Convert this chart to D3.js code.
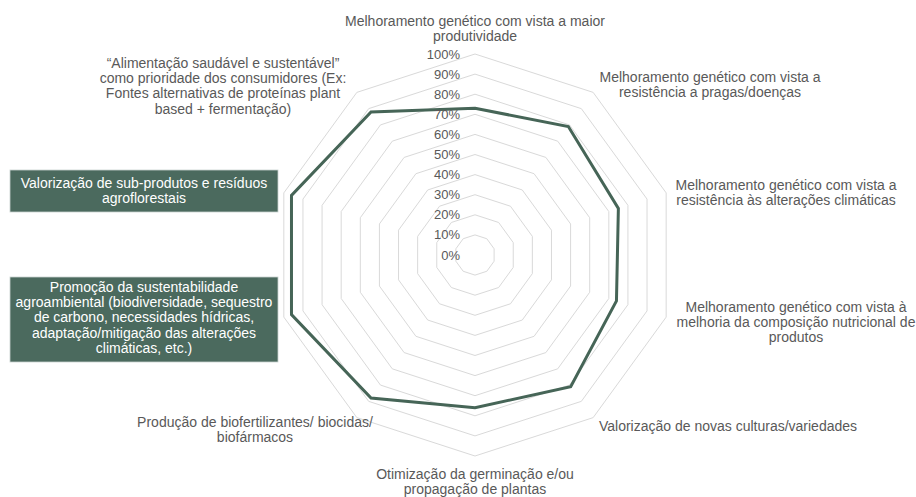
<!DOCTYPE html>
<html><head><meta charset="utf-8">
<script src="https://cdn.jsdelivr.net/npm/d3@7"></script>
<style>body{margin:0;background:#fff}svg{display:block}text{font-family:"Liberation Sans",Arial,sans-serif}</style>
</head><body><svg id="c" width="916" height="497"></svg>
<script>
// ---- data ----
const categories = [
  ["Melhoramento genético com vista a maior","produtividade"],
  ["Melhoramento genético com vista a","resistência a pragas/doenças"],
  ["Melhoramento genético com vista a","resistência às alterações climáticas"],
  ["Melhoramento genético com vista à","melhoria da composição nutricional de","produtos"],
  ["Valorização de novas culturas/variedades"],
  ["Otimização da germinação e/ou","propagação de plantas"],
  ["Produção de biofertilizantes/ biocidas/","biofármacos"],
  ["Promoção da sustentabilidade","agroambiental (biodiversidade, sequestro","de carbono, necessidades hídricas,","adaptação/mitigação das alterações","climáticas, etc.)"],
  ["Valorização de sub-produtos e resíduos","agroflorestais"],
  ["“Alimentação saudável e sustentável”","como prioridade dos consumidores (Ex:","Fontes alternativas de proteínas plant","based + fermentação)"]
];
const values = [0.73, 0.79, 0.75, 0.74, 0.81, 0.76, 0.88, 0.96, 0.96, 0.88];
const highlighted = [false,false,false,false,false,false,false,true,true,false];
const tickValues = [0,0.1,0.2,0.3,0.4,0.5,0.6,0.7,0.8,0.9,1.0];
const tickLabels = ["0%","10%","20%","30%","40%","50%","60%","70%","80%","90%","100%"];

// ---- layout ----
const cx = 475, cy = 255, R = 201;
const labelPos = [ // center x, first baseline y
  [475,26],[710,82],[786,190],[796,312],[728,431],[475,479],[255,427],[144,292],[144,188],[223,68]
];
const boxRect = {7:[10,277,268,85], 8:[10,170,268,42]};
const lineH = 15.2;

const svg = d3.select("#c");
const r = d3.scaleLinear().domain([0,1]).range([0,R]);
const ang = d3.scaleLinear().domain([0,categories.length]).range([0,2*Math.PI]);
const pt = (i,v)=>[cx+r(v)*Math.sin(ang(i)), cy-r(v)*Math.cos(ang(i))];

// grid rings
svg.append("g").selectAll("polygon").data(tickValues.filter(t=>t>0)).join("polygon")
  .attr("points", t=>categories.map((c,i)=>pt(i,t).join(",")).join(" "))
  .attr("fill","none").attr("stroke","#d9d9d9").attr("stroke-width",1);

// series line
const line = d3.line().curve(d3.curveLinearClosed);
svg.append("path").attr("d", line(values.map((v,i)=>pt(i,v))))
  .attr("fill","none").attr("stroke","#466557").attr("stroke-width",3).attr("stroke-linejoin","miter");

// tick labels
svg.append("g").selectAll("text").data(tickValues).join("text")
  .attr("x", cx-15).attr("y", t=>cy-r(t)+4.5).attr("text-anchor","end")
  .attr("font-size",13).attr("fill","#595959").text((t,i)=>tickLabels[i]);

// category labels
categories.forEach((lines,i)=>{
  const g = svg.append("g");
  if (highlighted[i]) {
    const b = boxRect[i];
    g.append("rect").attr("x",b[0]).attr("y",b[1]).attr("width",b[2]).attr("height",b[3])
      .attr("fill","#4b6a5e").attr("stroke","#c9d3cf").attr("stroke-width",0.8);
  }
  g.selectAll("text").data(lines).join("text")
    .attr("x", labelPos[i][0]).attr("y",(d,k)=>labelPos[i][1]+k*lineH)
    .attr("text-anchor","middle").attr("font-size",14)
    .attr("fill", highlighted[i] ? "#ffffff" : "#595959").text(d=>d);
});
</script></body></html>
